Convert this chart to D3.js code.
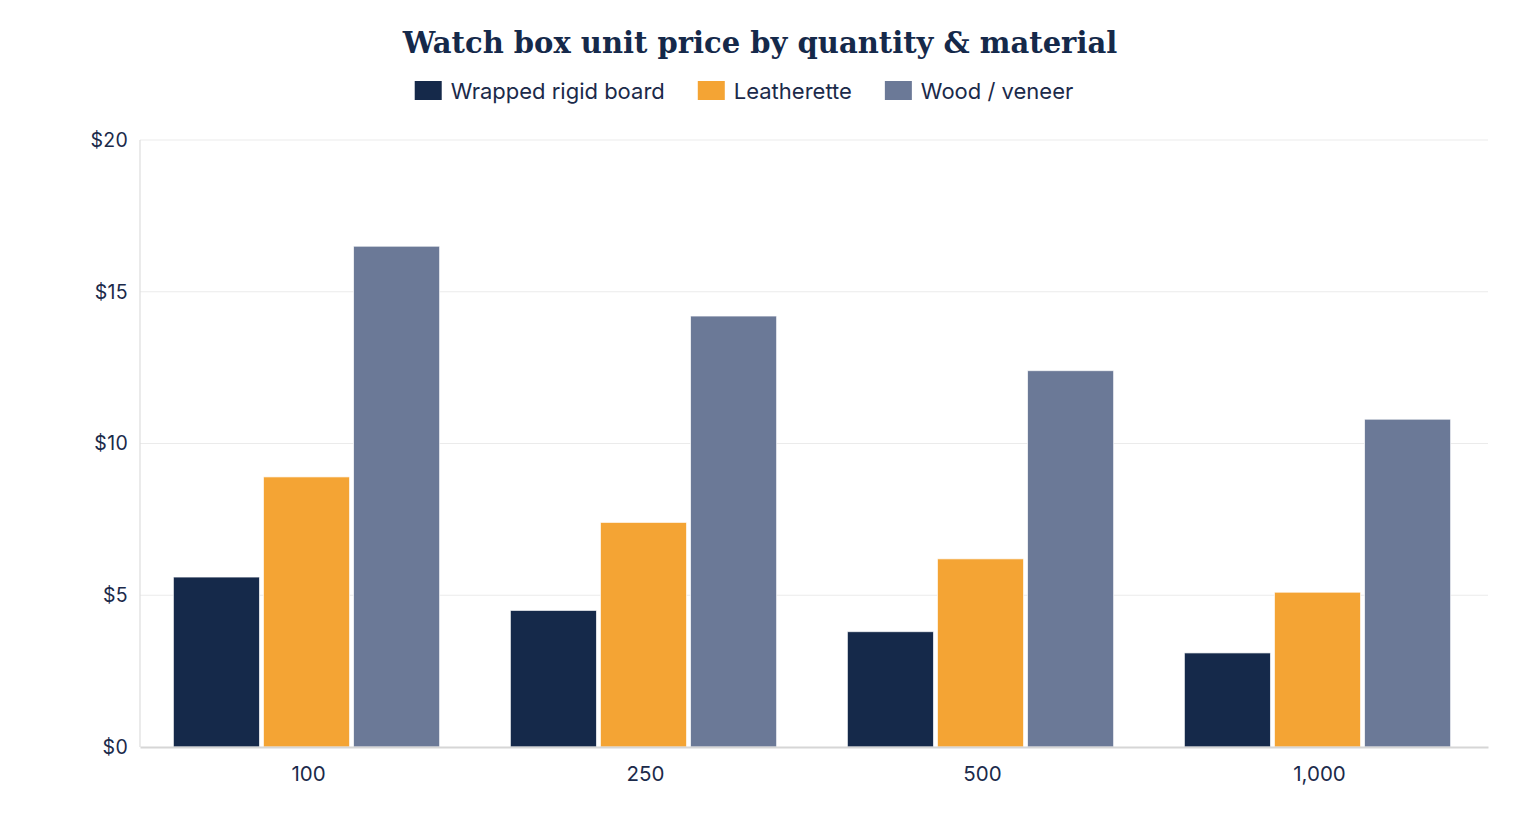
<!DOCTYPE html>
<html>
<head>
<meta charset="utf-8">
<script src="https://cdn.jsdelivr.net/npm/d3@7"></script>
<style>
  body { margin: 0; background: #fff; }
  svg text { font-family: Inter, "Noto Sans", sans-serif; fill: #1b2a4a; }
</style>
</head>
<body>
<svg id="chart" width="1520" height="840"></svg>
<script>
'use strict';

var quantities = ['100', '250', '500', '1,000'];
var materials = ['Wrapped rigid board', 'Leatherette', 'Wood / veneer'];
var rigidBoard = [5.6, 4.5, 3.8, 3.1];
var leatherette = [8.9, 7.4, 6.2, 5.1];
var woodVeneer = [16.5, 14.2, 12.4, 10.8];
var yTicks = [0, 5, 10, 15, 20];
var colors = ['#15294a', '#f4a434', '#6b7997'];

var seriesValues = [rigidBoard, leatherette, woodVeneer];

var svg, margin, w, h, x0, x1, y, plot, groups, legend, offset;

svg = d3.select('#chart');
margin = { top: 140, right: 32, bottom: 93, left: 140 };
w = 1520 - margin.left - margin.right;
h = 840 - margin.top - margin.bottom;

x0 = d3.scaleBand()
  .domain(quantities)
  .range([0, w])
  .paddingInner(0.21)
  .paddingOuter(0.105);

x1 = d3.scaleBand()
  .domain(materials)
  .range([0, x0.bandwidth()])
  .paddingInner(0.044);

y = d3.scaleLinear()
  .domain([0, 20])
  .range([h, 0]);

plot = svg.append('g')
  .attr('transform', 'translate(' + margin.left + ',' + margin.top + ')');

// grid lines
plot.append('g')
  .selectAll('line')
  .data(yTicks.slice(1))
  .enter()
  .append('line')
  .attr('x1', 0)
  .attr('x2', w)
  .attr('y1', function (d) { return y(d); })
  .attr('y2', function (d) { return y(d); })
  .attr('stroke', '#ebebeb')
  .attr('stroke-width', 1.2);

// left axis line
plot.append('line')
  .attr('x1', 0).attr('x2', 0)
  .attr('y1', 0).attr('y2', h)
  .attr('stroke', '#dddddd')
  .attr('stroke-width', 1.2);

// y axis labels
var yAxis = plot.append('g')
  .call(d3.axisLeft(y).tickValues(yTicks).tickSize(0).tickPadding(12)
    .tickFormat(function (d) { return '$' + d; }));
yAxis.select('.domain').remove();
yAxis.selectAll('text')
  .style('font-size', '19.5px')
  .style('letter-spacing', '0.3px')
  .style('fill', '#1b2a4a');

// bars, shifted 2px left like the original
groups = plot.append('g')
  .selectAll('g')
  .data(quantities)
  .enter()
  .append('g')
  .attr('transform', function (d) { return 'translate(' + (x0(d) - 2) + ',0)'; });

groups.selectAll('rect')
  .data(function (d, i) {
    return materials.map(function (m, j) {
      return { material: m, value: seriesValues[j][i], color: colors[j] };
    });
  })
  .enter()
  .append('rect')
  .attr('x', function (d) { return x1(d.material); })
  .attr('y', function (d) { return y(d.value); })
  .attr('width', x1.bandwidth())
  .attr('height', function (d) { return h - y(d.value); })
  .attr('fill', function (d) { return d.color; })
  .attr('stroke', 'rgba(255,255,255,0.7)')
  .attr('stroke-width', 1);

// bottom axis
var xAxis = plot.append('g')
  .attr('transform', 'translate(0,' + h + ')')
  .call(d3.axisBottom(x0).tickSize(0).tickPadding(19));
xAxis.select('.domain')
  .attr('stroke', '#d6d6d6')
  .attr('stroke-width', 2);
xAxis.selectAll('text')
  .style('font-size', '20.5px')
  .style('fill', '#1b2a4a');

// title
svg.append('text')
  .attr('x', 760)
  .attr('y', 53)
  .attr('text-anchor', 'middle')
  .style('font-family', 'Georgia, "DejaVu Serif", serif')
  .style('font-weight', 'bold')
  .style('font-size', '29px')
  .style('fill', '#15294a')
  .text('Watch box unit price by quantity & material');

// legend
legend = svg.append('g');
offset = 0;
materials.forEach(function (m, i) {
  var item = legend.append('g').attr('transform', 'translate(' + offset + ',0)');
  item.append('rect')
    .attr('x', 0).attr('y', 81)
    .attr('width', 27).attr('height', 19)
    .attr('fill', colors[i]);
  var t = item.append('text')
    .attr('x', 36).attr('y', 99)
    .style('font-size', '22px')
    .text(m);
  offset += 36 + t.node().getComputedTextLength() + 33;
});
offset -= 33;
legend.attr('transform', 'translate(' + (744 - offset / 2) + ',0)');
</script>
</body>
</html>
